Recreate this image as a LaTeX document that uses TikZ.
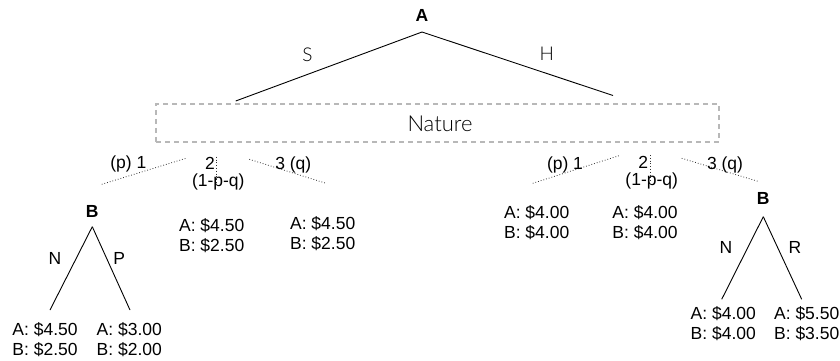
\documentclass[tikz,border=0pt]{standalone}
\usepackage{fontspec}
\setmainfont{Liberation Sans}
\newfontfamily\gillfont{Lato Light}
\begin{document}
\begin{tikzpicture}[x=1pt,y=-1pt,
  txt/.style={inner sep=0pt,font=\fontsize{17.5}{20}\selectfont},
  pay/.style={txt,align=center},
  player/.style={inner sep=0pt,font=\fontsize{17.5}{18}\selectfont\bfseries},
  act/.style={inner sep=0pt,font=\gillfont\fontsize{19}{20}\selectfont},
  natfont/.style={inner sep=0pt,font=\gillfont\fontsize{22}{24}\selectfont},
  edge/.style={line width=0.9pt,black},
  chance/.style={line width=0.8pt,dotted,black!80},
  naturebox/.style={draw=black!28,line width=1.6pt,dash pattern=on 5pt off 4pt,inner sep=0pt}
]
\useasboundingbox (0,0) rectangle (840,361);

% top player
\node[player] (A) at (422,15) {A};
\coordinate (Aap) at (422,32);
\coordinate (Sbot) at (235.7,101);
\coordinate (Hbot) at (613,95.5);
\draw[edge] (Aap) -- (Sbot);
\draw[edge] (Aap) -- (Hbot);
\node[act] (S) at (307.5,54.5) {S};
\node[act] (H) at (546.7,54) {H};

% nature box
\node[naturebox,minimum width=563pt,minimum height=38pt] (nat) at (437.5,123) {};
\node[natfont] (natlbl) at (440,124) {Nature};

% left chance branches
\coordinate (l1a) at (101.7,184.3); \coordinate (l1b) at (186,158.3);
\coordinate (l2a) at (216.7,156.7); \coordinate (l2b) at (216.7,183.3);
\coordinate (l3a) at (249.3,159.3); \coordinate (l3b) at (326,183.3);
\draw[chance] (l1a) -- (l1b);
\draw[chance] (l2a) -- (l2b);
\draw[chance] (l3a) -- (l3b);
\node[txt] (lp1) at (128.3,164) {(p) 1};
\node[txt] (l2) at (210,163.3) {2};
\node[txt] (l2p) at (218.3,182) {(1-p-q)};
\node[txt] (l3q) at (293.3,165) {3 (q)};

% right chance branches
\coordinate (r1a) at (532.7,183.3); \coordinate (r1b) at (619,155.7);
\coordinate (r2a) at (650.7,155); \coordinate (r2b) at (650.7,181.7);
\coordinate (r3a) at (681.7,158.3); \coordinate (r3b) at (759.3,181.7);
\draw[chance] (r1a) -- (r1b);
\draw[chance] (r2a) -- (r2b);
\draw[chance] (r3a) -- (r3b);
\node[txt] (rp1) at (565,165) {(p) 1};
\node[txt] (r2) at (643.3,162.7) {2};
\node[txt] (r2p) at (651.7,180.5) {(1-p-q)};
\node[txt] (r3q) at (725,165) {3 (q)};

% left B subtree
\node[player] (BL) at (92.3,211) {B};
\coordinate (BLap) at (92.3,226.7);
\coordinate (BLn) at (50,310);
\coordinate (BLp) at (130,310);
\draw[edge] (BLap) -- (BLn);
\draw[edge] (BLap) -- (BLp);
\node[txt] (NL) at (55,258.3) {N};
\node[txt] (PL) at (119.3,258.3) {P};
\node[pay] (payLN) at (45,339.5) {A: \$4.50\\B: \$2.50};
\node[pay] (payLP) at (129.3,339.5) {A: \$3.00\\B: \$2.00};

% middle payoffs
\node[pay] (payS2) at (211.7,235.5) {A: \$4.50\\B: \$2.50};
\node[pay] (payS3) at (322.7,233.3) {A: \$4.50\\B: \$2.50};
\node[pay] (payH1) at (536.7,223) {A: \$4.00\\B: \$4.00};
\node[pay] (payH2) at (645,223) {A: \$4.00\\B: \$4.00};

% right B subtree
\node[player] (BR) at (763.3,198) {B};
\coordinate (BRap) at (763.3,216.7);
\coordinate (BRn) at (721.7,299.3);
\coordinate (BRr) at (801.7,299.3);
\draw[edge] (BRap) -- (BRn);
\draw[edge] (BRap) -- (BRr);
\node[txt] (NR) at (726,247.3) {N};
\node[txt] (RR) at (795,247.3) {R};
\node[pay] (payRN) at (723.3,323.5) {A: \$4.00\\B: \$4.00};
\node[pay] (payRR) at (806.7,323.5) {A: \$5.50\\B: \$3.50};
\end{tikzpicture}
\end{document}
